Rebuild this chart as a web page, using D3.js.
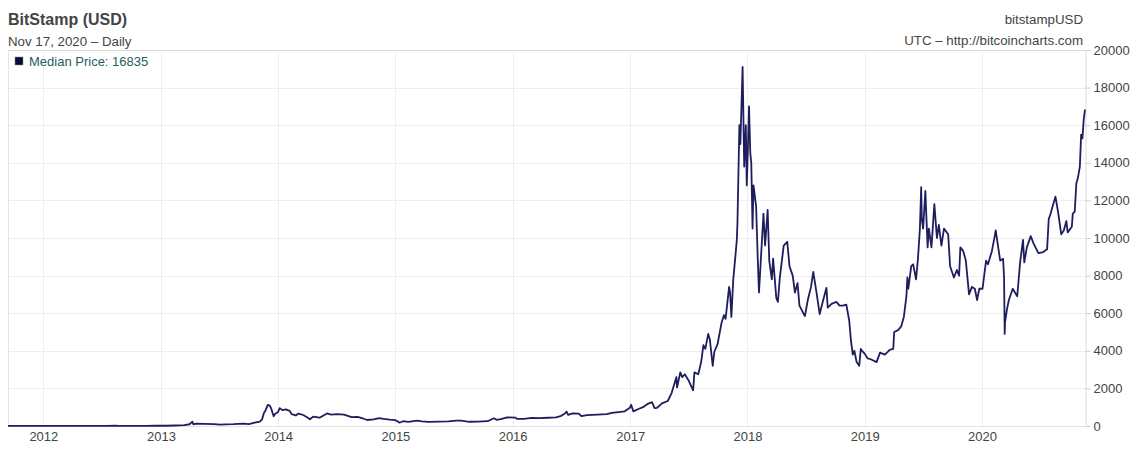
<!DOCTYPE html>
<html>
<head>
<meta charset="utf-8">
<script src="https://cdn.jsdelivr.net/npm/d3@7/dist/d3.min.js"></script>
<style>
  html, body { margin: 0; padding: 0; background: #fff; }
  svg { display: block; font-family: "Liberation Sans", Arial, sans-serif; }
</style>
</head>
<body>
<svg id="chart" width="1141" height="451"></svg>
<script>
// ---- data ----
const dates = [
"2011-09-13","2011-10-15","2011-11-18","2011-12-15","2012-01-10","2012-02-15","2012-03-15","2012-04-15","2012-05-15","2012-06-15",
"2012-07-15","2012-08-16","2012-08-19","2012-09-15","2012-10-15","2012-11-15","2012-12-15","2013-01-15","2013-02-15","2013-03-15",
"2013-03-31","2013-04-09","2013-04-12","2013-04-20","2013-05-15","2013-06-15","2013-07-05","2013-07-20","2013-08-15","2013-09-15",
"2013-10-02","2013-10-20","2013-11-05","2013-11-12","2013-11-18","2013-11-22","2013-11-30","2013-12-05","2013-12-10","2013-12-18",
"2013-12-23","2013-12-31","2014-01-06","2014-01-15","2014-01-25","2014-02-06","2014-02-12","2014-02-25","2014-03-05","2014-03-20",
"2014-04-01","2014-04-10","2014-04-20","2014-05-10","2014-06-02","2014-06-15","2014-07-05","2014-07-25","2014-08-18","2014-09-05",
"2014-09-22","2014-10-05","2014-10-25","2014-11-12","2014-11-25","2014-12-15","2014-12-31","2015-01-05","2015-01-14","2015-01-25",
"2015-02-10","2015-03-10","2015-03-25","2015-04-15","2015-05-15","2015-06-15","2015-07-10","2015-07-25","2015-08-19","2015-09-15",
"2015-10-15","2015-11-04","2015-11-12","2015-11-25","2015-12-15","2016-01-10","2016-01-15","2016-02-05","2016-03-01","2016-03-25",
"2016-04-20","2016-05-15","2016-05-29","2016-06-12","2016-06-17","2016-06-22","2016-07-05","2016-07-25","2016-08-02","2016-08-20",
"2016-09-20","2016-10-20","2016-11-05","2016-11-25","2016-12-15","2016-12-31","2017-01-04","2017-01-11","2017-01-25","2017-02-10",
"2017-02-25","2017-03-10","2017-03-18","2017-03-25","2017-04-10","2017-04-28","2017-05-10","2017-05-25","2017-05-27","2017-06-06",
"2017-06-12","2017-06-20","2017-07-01","2017-07-16","2017-07-20","2017-08-01","2017-08-10","2017-08-17","2017-08-23","2017-09-01",
"2017-09-06","2017-09-15","2017-09-20","2017-09-30","2017-10-12","2017-10-20","2017-10-25","2017-11-05","2017-11-08","2017-11-12",
"2017-11-18","2017-11-26","2017-11-29","2017-12-01","2017-12-07","2017-12-10","2017-12-17","2017-12-22","2017-12-27","2017-12-30",
"2018-01-03","2018-01-06","2018-01-10","2018-01-13","2018-01-17","2018-01-20","2018-01-28","2018-02-02","2018-02-06","2018-02-10",
"2018-02-20","2018-02-25","2018-03-05","2018-03-10","2018-03-18","2018-03-22","2018-04-01","2018-04-06","2018-04-12","2018-04-24",
"2018-05-05","2018-05-12","2018-05-22","2018-05-29","2018-06-06","2018-06-12","2018-06-24","2018-06-29","2018-07-08","2018-07-18",
"2018-07-25","2018-08-05","2018-08-14","2018-08-22","2018-09-04","2018-09-08","2018-09-20","2018-10-05","2018-10-15","2018-10-25",
"2018-11-05","2018-11-14","2018-11-19","2018-11-25","2018-11-30","2018-12-07","2018-12-15","2018-12-20","2018-12-24","2019-01-01",
"2019-01-10","2019-01-20","2019-02-07","2019-02-18","2019-03-05","2019-03-20","2019-03-31","2019-04-03","2019-04-15","2019-04-25",
"2019-05-03","2019-05-11","2019-05-14","2019-05-17","2019-05-26","2019-06-01","2019-06-10","2019-06-16","2019-06-22","2019-06-26",
"2019-06-28","2019-07-02","2019-07-09","2019-07-16","2019-07-20","2019-07-28","2019-08-06","2019-08-14","2019-08-20","2019-08-28",
"2019-09-05","2019-09-18","2019-09-24","2019-10-06","2019-10-15","2019-10-22","2019-10-26","2019-11-04","2019-11-12","2019-11-22",
"2019-12-01","2019-12-10","2019-12-17","2019-12-24","2020-01-03","2020-01-14","2020-01-20","2020-02-01","2020-02-10","2020-02-13",
"2020-02-20","2020-02-27","2020-03-07","2020-03-10","2020-03-12","2020-03-13","2020-03-19","2020-03-25","2020-04-06","2020-04-20",
"2020-04-29","2020-05-08","2020-05-12","2020-05-20","2020-06-01","2020-06-10","2020-06-25","2020-07-10","2020-07-22","2020-07-27",
"2020-08-02","2020-08-10","2020-08-17","2020-08-25","2020-09-04","2020-09-12","2020-09-20","2020-09-24","2020-10-07","2020-10-10",
"2020-10-16","2020-10-21","2020-10-26","2020-11-01","2020-11-05","2020-11-09","2020-11-13","2020-11-17"
];
const prices = [
5.8,4,2.3,3.2,7,4.5,5.3,5,5.1,6.5,
8.5,13.5,8.5,11.8,11.8,11.2,13.4,14.5,27,47,
93,230,90,125,115,100,68,90,100,126,
105,175,235,350,700,800,1125,1100,950,520,
650,730,950,840,880,800,630,560,660,585,
470,360,500,440,670,600,630,600,470,480,
400,320,355,420,375,335,315,275,175,255,
220,290,245,220,237,245,290,290,225,230,
255,410,330,360,455,448,375,375,435,415,
440,455,520,670,760,590,670,655,520,580,
605,630,700,740,780,965,1130,780,890,1000,
1180,1270,950,960,1200,1330,1750,2600,2050,2850,
2600,2750,2450,1900,2850,2750,3400,4300,4100,4900,
4600,3200,3950,4350,5450,5900,5700,7400,7100,5800,
7800,9300,9900,10800,16000,15000,19100,13800,16000,12800,
15000,17000,14500,14000,10500,12800,11700,9000,7100,8300,
11300,9600,11500,8800,7800,8900,6800,6600,7900,9600,
9800,8500,8000,7100,7600,6400,6000,5850,6700,7400,
8200,7000,5950,6500,7350,6300,6500,6600,6400,6400,
6450,5600,4600,3800,4000,3400,3200,4100,4000,3850,
3600,3550,3400,3900,3800,4050,4100,5000,5100,5300,
5800,6900,7900,7300,8500,8600,7800,8900,10500,12700,
11000,10500,12500,9500,10500,9500,11800,10000,10700,9600,
10500,10200,8500,7900,8300,8000,9500,9300,8800,7000,
7400,7300,6700,7300,7300,8800,8600,9300,10100,10400,
9600,8800,8900,7900,4900,5500,6200,6700,7300,6900,
8700,9900,8700,9500,10100,9700,9200,9250,9400,11000,
11300,11800,12200,11400,10200,10400,10900,10300,10600,11300,
11400,12900,13200,13800,15500,15300,16300,16835
];
const yTicks = [0,2000,4000,6000,8000,10000,12000,14000,16000,18000,20000];
const xTickYears = [2012,2013,2014,2015,2016,2017,2018,2019,2020];
const titleText = "BitStamp (USD)";
const subtitleText = "Nov 17, 2020 \u2013 Daily";
const symbolText = "bitstampUSD";
const sourceText = "UTC \u2013 http://bitcoincharts.com";
const legendText = "Median Price: 16835";

// ---- drawing ----
(function () {
const svg = d3.select("#chart");
const parse = d3.timeParse("%Y-%m-%d");
const data = dates.map((d, i) => ({ date: parse(d), value: prices[i] }));

const pL = 8, pR = 1085, pT = 50, pB = 426;
const x = d3.scaleTime().domain([parse("2011-09-13"), parse("2020-11-17")]).range([pL, pR]);
const y = d3.scaleLinear().domain([0, 20000]).range([pB, pT]);

// grid
const grid = svg.append("g");
grid.selectAll("line.h").data(yTicks).enter().append("line")
  .attr("x1", pL).attr("x2", pR)
  .attr("y1", d => Math.round(y(d)) + 0.5).attr("y2", d => Math.round(y(d)) + 0.5)
  .attr("stroke", d => d === 20000 ? "#d8d8d8" : "#eeeeee").attr("stroke-width", 1);
grid.selectAll("line.v").data(xTickYears).enter().append("line")
  .attr("x1", d => Math.round(x(new Date(d, 0, 1))) + 0.5)
  .attr("x2", d => Math.round(x(new Date(d, 0, 1))) + 0.5)
  .attr("y1", pT).attr("y2", pB)
  .attr("stroke", "#eeeeee");
// frame
svg.append("line").attr("x1", pL + 0.5).attr("x2", pL + 0.5).attr("y1", pT).attr("y2", pB)
  .attr("stroke", "#e4e4e4");
svg.append("line").attr("x1", pL).attr("x2", pR).attr("y1", pB + 0.5).attr("y2", pB + 0.5)
  .attr("stroke", "#e4e4e4");

// right y axis
const yAxis = d3.axisRight(y).tickValues(yTicks).tickSize(5).tickPadding(3).tickFormat(d3.format("d"));
const gy = svg.append("g").attr("transform", `translate(${pR + 0.5},0)`).call(yAxis);
gy.select(".domain").attr("stroke", "#dcdcdc");
gy.selectAll(".tick line").attr("stroke", "#cccccc");
gy.selectAll(".tick text").attr("fill", "#444").style("font-size", "13px")
  .style("font-family", "'Liberation Sans', Arial, sans-serif");

// x axis labels
const xAxis = d3.axisBottom(x).tickValues(xTickYears.map(yv => new Date(yv, 0, 1)))
  .tickFormat(d3.timeFormat("%Y")).tickSize(0).tickPadding(6);
const gx = svg.append("g").attr("transform", `translate(0,${pB})`).call(xAxis);
gx.select(".domain").remove();
gx.selectAll(".tick text").attr("fill", "#444").style("font-size", "13px")
  .style("font-family", "'Liberation Sans', Arial, sans-serif");

// line
const line = d3.line().x(d => x(d.date)).y(d => y(d.value));
svg.append("path").datum(data)
  .attr("fill", "none").attr("stroke", "#1e1e5e").attr("stroke-width", 1.8)
  .attr("stroke-linejoin", "round").attr("d", line);

// titles
svg.append("text").attr("x", 8).attr("y", 25).text(titleText)
  .attr("fill", "#444").style("font-size", "16px").style("font-weight", "bold");
svg.append("text").attr("x", 8).attr("y", 46).text(subtitleText)
  .attr("fill", "#444").style("font-size", "13.3px");
svg.append("text").attr("x", 1083).attr("y", 24).attr("text-anchor", "end").text(symbolText)
  .attr("fill", "#444").style("font-size", "13.3px");
svg.append("text").attr("x", 1083).attr("y", 45).attr("text-anchor", "end").text(sourceText)
  .attr("fill", "#444").style("font-size", "13.3px");

// legend
svg.append("rect").attr("x", 15).attr("y", 57).attr("width", 8).attr("height", 8)
  .attr("fill", "#0b0b3b").attr("stroke", "#888").attr("stroke-width", 0.5);
svg.append("text").attr("x", 29).attr("y", 65.5).text(legendText)
  .attr("fill", "#245f5f").style("font-size", "13px");
})();
</script>
</body>
</html>
